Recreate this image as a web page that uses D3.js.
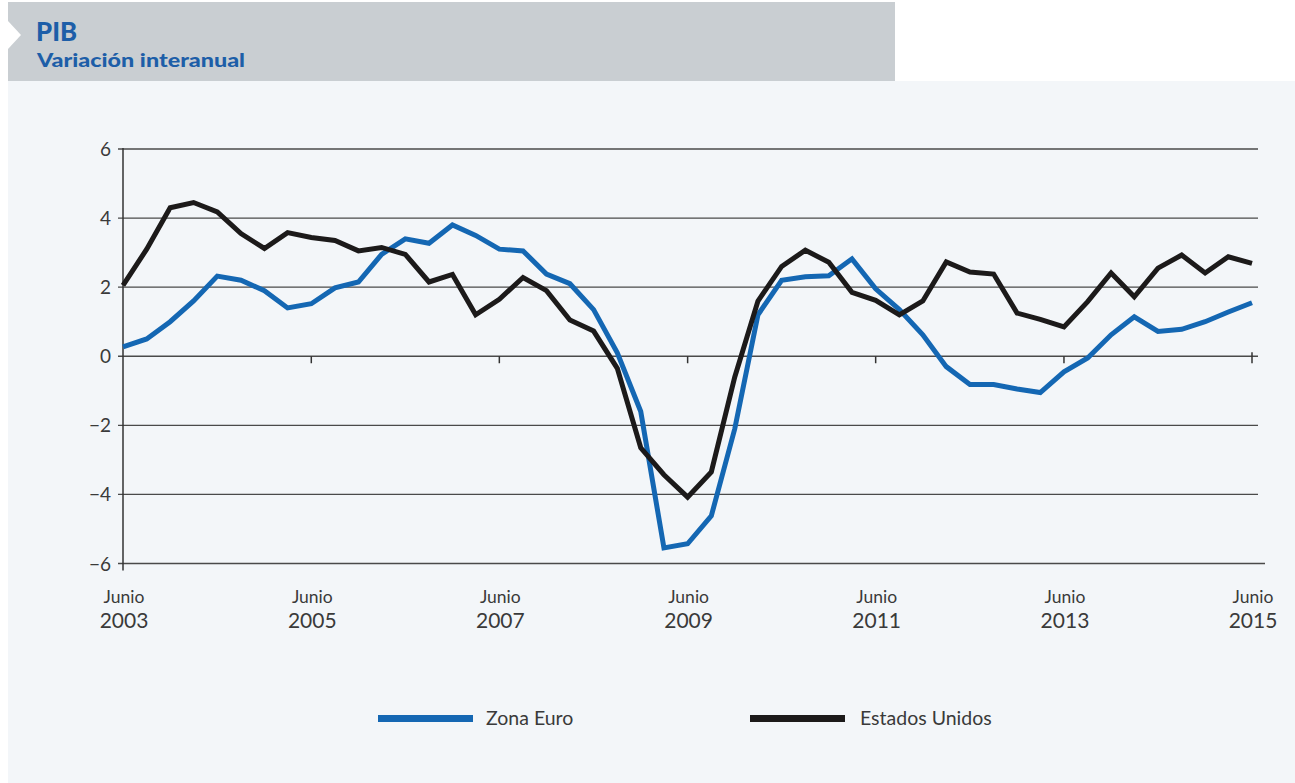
<!DOCTYPE html>
<html>
<head>
<meta charset="utf-8">
<script src="https://cdn.jsdelivr.net/npm/d3@7"></script>
<style>
  body { margin: 0; background: #ffffff; }
  svg { display: block; }
  text { font-family: Lato, "Open Sans", sans-serif; }
</style>
</head>
<body>
<div id="chart"></div>
<script>
// quarterly observations, June 2003 .. June 2015
var quarters = [
  "2003-06", "2003-09", "2003-12", "2004-03", "2004-06", "2004-09", "2004-12",
  "2005-03", "2005-06", "2005-09", "2005-12", "2006-03", "2006-06", "2006-09",
  "2006-12", "2007-03", "2007-06", "2007-09", "2007-12", "2008-03", "2008-06",
  "2008-09", "2008-12", "2009-03", "2009-06", "2009-09", "2009-12", "2010-03",
  "2010-06", "2010-09", "2010-12", "2011-03", "2011-06", "2011-09", "2011-12",
  "2012-03", "2012-06", "2012-09", "2012-12", "2013-03", "2013-06", "2013-09",
  "2013-12", "2014-03", "2014-06", "2014-09", "2014-12", "2015-03", "2015-06"
];

var zonaEuro = [
  0.27, 0.5, 1.0, 1.6, 2.32, 2.2, 1.9,
  1.4, 1.52, 1.98, 2.15, 2.95, 3.4, 3.27,
  3.8, 3.5, 3.1, 3.05, 2.38, 2.1, 1.35,
  0.1, -1.6, -5.55, -5.43, -4.62, -2.1, 1.2,
  2.2, 2.3, 2.33, 2.82, 1.95, 1.35, 0.62,
  -0.3, -0.82, -0.82, -0.95, -1.05, -0.45, -0.05,
  0.62, 1.14, 0.72, 0.78, 1.0, 1.28, 1.55
];

var estadosUnidos = [
  2.05, 3.1, 4.3, 4.45, 4.18, 3.55, 3.12,
  3.58, 3.44, 3.35, 3.05, 3.15, 2.95, 2.15,
  2.37, 1.2, 1.65, 2.28, 1.9, 1.05, 0.73,
  -0.35, -2.65, -3.43, -4.08, -3.35, -0.6, 1.6,
  2.6, 3.07, 2.72, 1.85, 1.62, 1.2, 1.6,
  2.73, 2.44, 2.38, 1.25, 1.07, 0.85, 1.58,
  2.41, 1.72, 2.55, 2.93, 2.41, 2.88, 2.69
];

var yTicks = [6, 4, 2, 0, -2, -4, -6];
var xTickDates = ["2003-06", "2005-06", "2007-06", "2009-06", "2011-06", "2013-06", "2015-06"];
var xTickMonth = "Junio";

var seriesNames = ["Zona Euro", "Estados Unidos"];
var seriesColors = ["#1467b3", "#1c1a1a"];

var W = 1295, H = 783;
var parse = d3.timeParse("%Y-%m");

var svg = d3.select("#chart").append("svg")
    .attr("width", W)
    .attr("height", H);

// header band and panel
svg.append("rect").attr("x", 8).attr("y", 81).attr("width", W - 8).attr("height", H - 81)
    .attr("fill", "#f3f6f9");
svg.append("rect").attr("x", 8).attr("y", 2).attr("width", 887).attr("height", 79)
    .attr("fill", "#c9ced2");
svg.append("path").attr("d", "M8,21 L21,35 L8,49 Z").attr("fill", "#ffffff");

svg.append("text").attr("x", 36).attr("y", 41)
    .attr("font-size", 26).attr("font-weight", 900).attr("fill", "#1d5ea8")
    .attr("textLength", 41).attr("lengthAdjust", "spacingAndGlyphs")
    .text("PIB");
svg.append("text").attr("x", 37).attr("y", 67)
    .attr("font-size", 19).attr("font-weight", 900).attr("fill", "#1d5ea8")
    .attr("textLength", 208).attr("lengthAdjust", "spacingAndGlyphs")
    .text("Variación interanual");

var x = d3.scaleTime()
    .domain([parse(quarters[0]), parse(quarters[quarters.length - 1])])
    .range([123, 1252]);

var y = d3.scaleLinear()
    .domain([-6, 6])
    .range([563.5, 149]);

// horizontal grid
var grid = svg.append("g");
yTicks.forEach(function(v) {
    grid.append("line")
        .attr("x1", 118).attr("x2", v === -6 ? 1265 : 1258)
        .attr("y1", y(v)).attr("y2", y(v))
        .attr("stroke", "#4a4a4a").attr("stroke-width", 1.3);
    grid.append("text")
        .attr("x", 111).attr("y", y(v) + 7)
        .attr("text-anchor", "end")
        .attr("font-size", 19).attr("fill", "#3a3a3a")
        .text(v < 0 ? "\u2212" + Math.abs(v) : v);
});

// vertical axis
svg.append("line")
    .attr("x1", x(parse(quarters[0]))).attr("x2", x(parse(quarters[0])))
    .attr("y1", y(6) - 1).attr("y2", y(-6) + 7)
    .attr("stroke", "#333").attr("stroke-width", 1.5);

// x ticks sit on the zero line
xTickDates.forEach(function(d, i) {
    var xp = x(parse(d));
    if (i > 0) {
        svg.append("line")
            .attr("x1", xp).attr("x2", xp)
            .attr("y1", y(0) - (i === xTickDates.length - 1 ? 4 : 0)).attr("y2", y(0) + 7)
            .attr("stroke", "#333").attr("stroke-width", 1.5);
    }
    svg.append("text")
        .attr("x", xp + 1).attr("y", 603)
        .attr("text-anchor", "middle")
        .attr("font-size", 17.5).attr("fill", "#3a3a3a")
        .text(xTickMonth);
    svg.append("text")
        .attr("x", xp + 1).attr("y", 628)
        .attr("text-anchor", "middle")
        .attr("font-size", 21).attr("fill", "#3a3a3a")
        .text(d.slice(0, 4));
});

var line = d3.line()
    .x(function(d) { return x(parse(d.q)); })
    .y(function(d) { return y(d.v); });

function toPoints(values) {
    return values.map(function(v, i) { return { q: quarters[i], v: v }; });
}

[zonaEuro, estadosUnidos].forEach(function(values, i) {
    svg.append("path")
        .datum(toPoints(values))
        .attr("d", line)
        .attr("fill", "none")
        .attr("stroke", seriesColors[i])
        .attr("stroke-width", 5)
        .attr("stroke-linejoin", "miter")
        .attr("stroke-miterlimit", 3);
});

// legend
var legendX = [378, 750];
seriesNames.forEach(function(name, i) {
    svg.append("rect")
        .attr("x", legendX[i]).attr("y", 715)
        .attr("width", 95).attr("height", 7)
        .attr("fill", seriesColors[i]);
    svg.append("text")
        .attr("x", legendX[i] + (i === 0 ? 108 : 110)).attr("y", 725)
        .attr("font-size", 19.5).attr("fill", "#3a3a3a")
        .text(name);
});
</script>
</body>
</html>
